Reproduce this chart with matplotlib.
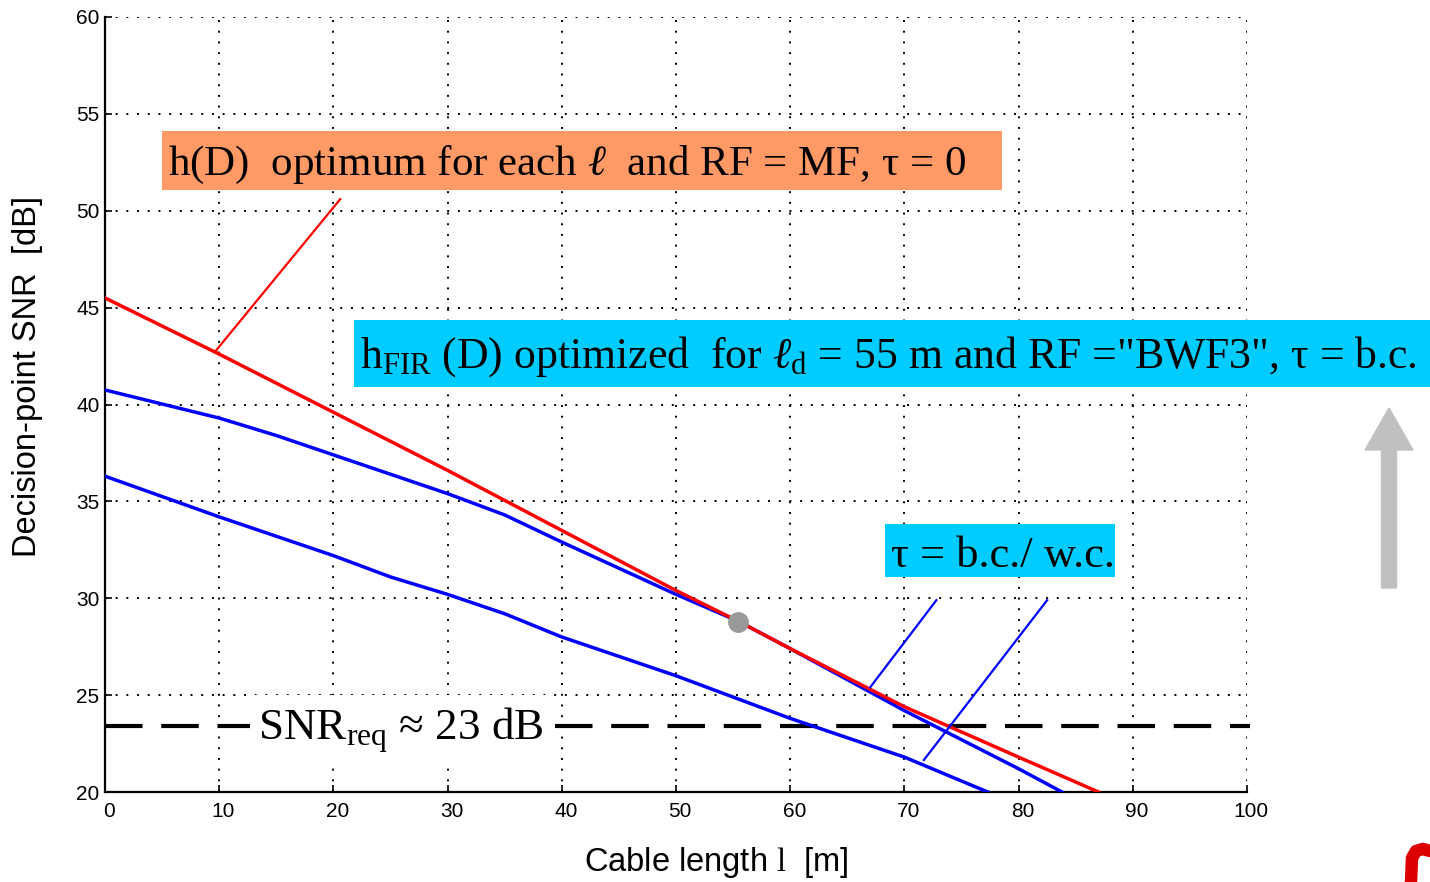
import matplotlib
matplotlib.use("Agg")
import matplotlib.pyplot as plt
from matplotlib.patches import Rectangle, FancyArrow
from matplotlib.lines import Line2D
from matplotlib.transforms import ScaledTranslation

plt.rcParams['mathtext.fontset'] = 'custom'
plt.rcParams['mathtext.rm'] = 'Liberation Serif'
plt.rcParams['mathtext.it'] = 'Liberation Serif:italic'
plt.rcParams['mathtext.bf'] = 'Liberation Serif:bold'

# data
l_opt = [0, 10, 20, 30, 40, 50, 55.5, 60, 70, 80, 87]
snr_opt = [45.5, 42.6, 39.6, 36.6, 33.5, 30.4, 28.8, 27.4, 24.4, 21.8, 20.0]

l_bc = [0, 10, 15, 20, 30, 35, 40, 50, 55.5, 60, 70, 80, 83.8]
snr_bc = [40.75, 39.3, 38.4, 37.4, 35.4, 34.3, 32.9, 30.2, 28.8, 27.4, 24.2, 21.2, 20.0]

l_wc = [0, 10, 15, 20, 25, 30, 35, 40, 50, 60, 70, 77.3]
snr_wc = [36.3, 34.2, 33.2, 32.2, 31.1, 30.2, 29.2, 28.0, 26.0, 23.8, 21.8, 20.0]

snr_req = 23.4
design_point = (55.4, 28.8)

W, H = 1430, 882
fig = plt.figure(figsize=(W / 100, H / 100), dpi=100)
ax = fig.add_axes([105 / W, 1 - 792 / H, (1247 - 105) / W, (792 - 17) / H])


def px(x, y):
    return x / W, 1 - y / H


def box(x0, y0, x1, y1, color):
    fig.patches.append(Rectangle(px(x0, y1), (x1 - x0) / W, (y1 - y0) / H,
                                 transform=fig.transFigure, facecolor=color,
                                 edgecolor='none', zorder=1))


ax.plot(l_wc, snr_wc, color='#0000FF', lw=2.5, zorder=3)
ax.plot(l_bc, snr_bc, color='#0000FF', lw=2.5, zorder=3)
ax.plot(l_opt, snr_opt, color='#FF0000', lw=2.5, zorder=4)
ax.plot(*design_point, 'o', color='#999999', ms=14, zorder=5)
ax.plot([0, 100.3], [snr_req, snr_req], color='black', lw=3,
        ls=(0, (9, 4.5)), clip_on=False, zorder=2)

# pointer lines from the labels
ax.plot([9.6, 20.6], [42.7, 50.6], color='#FF0000', lw=1.6, zorder=4)
ax.plot([67.0, 72.8], [25.4, 29.9], color='#0000FF', lw=1.6, zorder=4)
ax.plot([71.7, 82.5], [21.65, 29.9], color='#0000FF', lw=1.6, zorder=4)

ax.set_xlim(0, 100)
ax.set_ylim(20, 60)
ax.set_xticks(range(0, 101, 10))
ax.set_yticks(range(20, 61, 5))
ax.grid(True, color='black', lw=1.4, ls=(0, (1, 4.5)))
ax.set_axisbelow(True)
for s in ['top', 'right']:
    ax.spines[s].set_visible(False)
for s in ['left', 'bottom']:
    ax.spines[s].set_linewidth(1.6)
ax.tick_params(direction='in', length=5, width=1.2, labelsize=15)
ax.tick_params(axis='x', pad=7)
ax.tick_params(axis='y', pad=4)
shift = ScaledTranslation(0.04, 0, fig.dpi_scale_trans)
for lab in ax.get_xticklabels():
    lab.set_family('Liberation Sans')
    lab.set_transform(lab.get_transform() + shift)
for lab in ax.get_yticklabels():
    lab.set_family('Liberation Sans')

fig.text(*px(28, 376), 'Decision-point SNR  [dB]', rotation=90, ha='center',
         va='center', fontsize=23.5, family='Liberation Sans')
fig.text(*px(716, 862), r'Cable length $\mathrm{l}$  [m]', ha='center',
         va='center', fontsize=23.5, family='Liberation Sans')

serif = ['Liberation Serif', 'DejaVu Serif']
box(162, 131, 1002, 190, '#FF9966')
fig.text(*px(168, 175), r'h(D)  optimum for each $\ell$  and RF = MF, τ = 0',
         fontsize=31, family=serif, va='baseline', zorder=2)

box(354, 320, 1430, 387, '#00CCFF')
fig.text(*px(360, 368),
         r'h$_{\mathrm{FIR}}$ (D) optimized  for $\ell_{\mathrm{d}}$ = 55 m and RF ="BWF3", τ = b.c.',
         fontsize=31.5, family=serif, va='baseline', zorder=2)

box(885, 524, 1115, 577, '#00CCFF')
fig.text(*px(891, 567), 'τ = b.c./ w.c.', fontsize=32, family=serif,
         va='baseline', zorder=2)

box(250, 695, 550, 760, 'white')
fig.text(*px(258, 740), r'SNR$_{\mathrm{req}}$ ≈ 23 dB', fontsize=32.5,
         family=serif, va='baseline', zorder=2)

# grey arrow on the right
fig.patches.append(FancyArrow(13.89, (H - 588) / 100, 0, 1.8, width=0.15,
                              head_width=0.48, head_length=0.42,
                              length_includes_head=True, color='#C0C0C0',
                              transform=fig.dpi_scale_trans, zorder=1))

# piece of a red logo in the corner
fig.lines.append(Line2D([1411 / W, 1412 / W, 1416 / W, 1423 / W, 1430 / W],
                        [0, 1 - 858 / H, 1 - 851 / H, 1 - 849 / H, 1 - 851 / H],
                        transform=fig.transFigure, color='#DD0000', lw=9,
                        solid_capstyle='round', zorder=1))

fig.savefig('out.png', dpi=100)
